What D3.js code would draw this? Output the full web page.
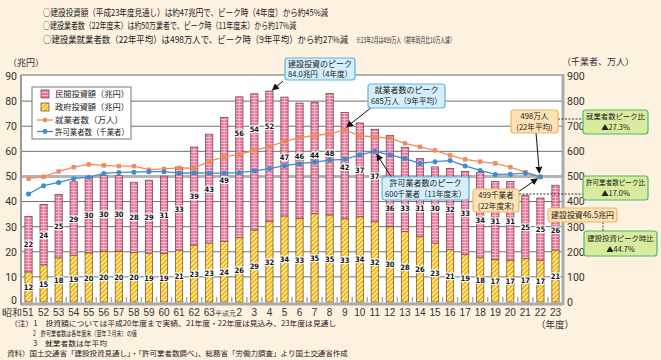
<!DOCTYPE html>
<html><head><meta charset="utf-8">
<script src="https://cdn.jsdelivr.net/npm/d3@7"></script>
<style>
body{margin:0;background:#fdf1e0;}
svg{display:block;font-family:"Noto Sans CJK JP","Noto Sans",sans-serif;}
</style>
</head><body><svg id="c" width="661" height="360"></svg>
<script>
const years = ["昭和51","52","53","54","55","56","57","58","59","60","61","62","63","平成元","2","3","4","5","6","7","8","9","10","11","12","13","14","15","16","17","18","19","20","21","22","23"];
const govInvest  = [11.9,14.7,17.5,18.6,19.5,20.1,20.1,19.7,19.4,19.3,20.6,22.6,23.4,24.1,25.6,28.6,32.1,34.2,33.2,35.1,34.6,33.1,33.9,31.9,29.9,28.1,25.9,23.4,20.8,18.8,17.6,16.8,16.6,17.2,16.6,20.6];
const privInvest = [22.2,24.1,25.3,29.3,30.2,30.2,30.2,28.0,29.1,30.8,33.1,39.1,43.4,49.4,56.1,54.3,51.9,47.4,46.0,44.4,48.4,42.4,37.4,36.8,36.4,33.4,31.2,30.4,32.4,33.2,34.0,31.2,31.4,25.3,24.8,25.9];
const workers = [491,499,520,537,548,544,541,541,527,530,534,533,560,578,588,604,619,640,655,663,670,685,662,657,653,632,618,604,584,568,559,552,537,517,498];
const firms   = [430,463,476,491,497,512,516,517,519,519,513,514,513,513,515,522,531,543,551,557,565,568,586,600,586,571,552,559,563,542,524,508,509,513,499];
const leftTicks  = [0,10,20,30,40,50,60,70,80,90];
const rightTicks = [0,100,200,300,400,500,600,700,800,900];
const titleLines = [
  "○建設投資額（平成23年度見通し）は約47兆円で、ピーク時（4年度）から約45%減",
  "○建設業者数（22年度末）は約50万業者で、ピーク時（11年度末）から約17%減",
  "○建設業就業者数（22年平均）は498万人で、ピーク時（9年平均）から約27%減"
];
const titleNote = "※23年2月は499万人（前年同月比10万人減）";
const legendLabels = ["民間投資額（兆円）","政府投資額（兆円）","就業者数（万人）","許可業者数（千業者）"];
const notes = [
  "（注）1　投資額については平成20年度まで実績、21年度・22年度は見込み、23年度は見通し",
  "2　許可業者数は各年度末（翌年３月末）の値",
  "3　就業者数は年平均",
  "資料）国土交通省「建設投資見通し」・「許可業者数調べ」、総務省「労働力調査」より国土交通省作成"
];

const svg = d3.select("#c");
const defs = svg.append("defs");
const pp = defs.append("pattern").attr("id","pinkP").attr("width",4).attr("height",3).attr("patternUnits","userSpaceOnUse");
pp.append("rect").attr("width",4).attr("height",3).attr("fill","#ef7399");
pp.append("rect").attr("y",2).attr("width",4).attr("height",1).attr("fill","#f8bfd2");
const yp = defs.append("pattern").attr("id","yelP").attr("width",3.2).attr("height",3.2).attr("patternUnits","userSpaceOnUse").attr("patternTransform","rotate(45)");
yp.append("rect").attr("width",3.2).attr("height",3.2).attr("fill","#fff0a8");
yp.append("rect").attr("width",1.7).attr("height",3.2).attr("fill","#f5b10c");
defs.append("marker").attr("id","arr").attr("viewBox","0 0 10 10").attr("refX",9).attr("refY",5)
  .attr("markerWidth",7).attr("markerHeight",7).attr("orient","auto-start-reverse")
  .append("path").attr("d","M0,0L10,5L0,10z").attr("fill","#111");

const L = 21, R = 563, T = 76, B = 302;
const x = d3.scaleBand().domain(years).range([L,R]).paddingInner(0.52).paddingOuter(0.26);
const yL = d3.scaleLinear().domain([0,90]).range([B,T]);
const yR = d3.scaleLinear().domain([0,900]).range([B,T]);
const bw = x.bandwidth();
const cx = d => x(d) + bw/2;

function ctext(parent, x0, y0, t, fs, maxW, anchor, exact){
  const gg = parent.append("g").attr("transform",`translate(${x0},${y0})`);
  const tx = gg.append("text").attr("font-size",fs).attr("text-anchor",anchor||"start").attr("fill","#222").text(t);
  const w = tx.node().getComputedTextLength();
  if(w > maxW || exact) gg.attr("transform",`translate(${x0},${y0}) scale(${(maxW/w).toFixed(4)},1)`);
  return tx;
}

// titles
titleLines.forEach((t,i)=> ctext(svg, 43, 15.5+i*13.7, t, 9.4, [285,253,305][i], "start", true));
ctext(svg, 356, 43, titleNote, 7.5, 99, "start", true);

// plot background
svg.append("rect").attr("x",L).attr("y",T-1).attr("width",R-L).attr("height",B-T+1).attr("fill","#fff");
svg.append("line").attr("x1",L).attr("x2",R).attr("y1",T-1).attr("y2",T-1).attr("stroke","#b8b0a8").attr("stroke-width",2);

svg.append("g").selectAll("line").data(leftTicks.filter(t=>t>0 && t<90)).join("line")
  .attr("x1",L).attr("x2",R).attr("y1",d=>yL(d)).attr("y2",d=>yL(d))
  .attr("stroke",d=>d===50?"#b4b4b4":"#707070").attr("stroke-width",d=>d===50?3:1);

const axL = svg.append("g").attr("transform",`translate(${L},0)`)
  .call(d3.axisLeft(yL).tickValues(leftTicks).tickSize(0).tickPadding(4));
axL.select(".domain").remove();
axL.selectAll("text").attr("font-size",10.5).attr("fill","#333").attr("font-family","Roboto,'Noto Sans',sans-serif")
  .attr("dy",d=>d===0?"0.1em":"0.32em");
const axR = svg.append("g").attr("transform",`translate(${R},0)`)
  .call(d3.axisRight(yR).tickValues(rightTicks).tickSize(0).tickPadding(4));
axR.select(".domain").remove();
axR.selectAll("text").attr("font-size",10.5).attr("fill","#333").attr("font-family","Roboto,'Noto Sans',sans-serif");

svg.append("text").attr("x",8).attr("y",66).attr("font-size",9).attr("fill","#333").text("（兆円）");
svg.append("text").attr("x",562).attr("y",65).attr("font-size",9).attr("fill","#333").text("（千業者、万人）");

// bars
const g = svg.append("g");
years.forEach((yr,i)=>{
  const gv = govInvest[i], pv = privInvest[i];
  g.append("rect").attr("x",x(yr)).attr("y",yL(gv+pv)).attr("width",bw).attr("height",yL(gv)-yL(gv+pv))
    .attr("fill","url(#pinkP)").attr("stroke","#6a5058").attr("stroke-width",0.8);
  g.append("line").attr("x1",cx(yr)).attr("x2",cx(yr)).attr("y1",yL(gv+pv)+0.5).attr("y2",yL(gv)-0.5)
    .attr("stroke","#f9c6d6").attr("stroke-width",0.8);
  g.append("rect").attr("x",x(yr)).attr("y",yL(gv)).attr("width",bw).attr("height",yL(0)-yL(gv))
    .attr("fill","url(#yelP)").attr("stroke","#7a5a30").attr("stroke-width",0.8);
});

const boxes = {
  peakInv:  [285,58,70,22], peakWork:[368,84,77,24], peakFirm:[382,177,87,23],
  w22:[511,110,47,23], f22:[473,189,46,23], inv23:[548,208,69,14],
  gW:[583,110,65,24], gF:[583,176,65,24], gI:[584,231,73,25]
};

const lab = svg.append("g").attr("font-size",7.5).attr("font-weight","bold").attr("text-anchor","middle")
  .attr("font-family","'Liberation Sans Narrow','DejaVu Sans Condensed',sans-serif");
const underBox = (px,y) => Object.values(boxes).some(([bx,by,bwid,bh])=>px+5>bx&&px-5<bx+bwid&&y<by+bh+7);
years.forEach((yr,i)=>{
  const gv = govInvest[i], pv = privInvest[i];
  const px = cx(yr);
  lab.append("text").attr("x",px).attr("y",yL(gv/2)+3).text(Math.round(gv))
    .attr("fill","#111").attr("stroke","#fff").attr("stroke-width",2.2).attr("paint-order","stroke");
  const top = yL(gv+pv)+6, bot = yL(gv)-6;
  let mid = yL(gv+pv/2);
  Object.values(boxes).forEach(([bx,by,bwid,bh])=>{
    if(px+5>bx && px-5<bx+bwid && mid < by+bh+7) mid = Math.max(mid, by+bh+8);
  });
  let best = mid;
  if(i<workers.length){
    const up = yR(workers[i]), lo = yR(firms[i]);
    if(lo-up < 23 && mid>up && mid<lo && up-21>top){ best = up-21; }
    else{
      const ok = y => y>=top && y<=bot && Math.abs(up-y)>=7 && Math.abs(lo-y)>=7;
      for(let d=0; d<60; d+=0.5){
        if(ok(mid+d)){best=mid+d;break;}
        if(ok(mid-d) && !underBox(px,mid-d)){best=mid-d;break;}
      }
    }
  }
  lab.append("text").attr("x",px).attr("y",best+3).text(Math.round(pv))
    .attr("fill","#111").attr("stroke","#fff").attr("stroke-width",2.2).attr("paint-order","stroke");
});

// x axis
svg.append("line").attr("x1",L).attr("x2",R).attr("y1",B+2).attr("y2",B+2).attr("stroke","#aaa").attr("stroke-width",3);
svg.append("g").selectAll("line").data(years.slice(1)).join("line")
  .attr("x1",d=>x(d)-x.step()*x.paddingInner()/2).attr("x2",d=>x(d)-x.step()*x.paddingInner()/2)
  .attr("y1",B).attr("y2",B-5).attr("stroke","#aaa").attr("stroke-width",1.5);
const axB = svg.append("g").attr("transform",`translate(0,${B})`)
  .call(d3.axisBottom(x).tickSize(0).tickPadding(7));
axB.select(".domain").remove();
axB.selectAll("text").attr("font-size",d=>d==="平成元"?7:10).attr("fill","#333")
  .attr("text-anchor",d=>d==="昭和51"?"end":(d==="平成元"?"start":"middle"))
  .attr("dx",d=>d==="昭和51"?"5":(d==="平成元"?"-9":"0"))
  .attr("dy",d=>d==="平成元"?"0.95em":"0.71em");
svg.append("text").attr("x",536).attr("y",328).attr("font-size",9.5).attr("fill","#333").text("（年度）");

svg.append("line").attr("x1",L).attr("x2",L).attr("y1",T-1).attr("y2",B+3).attr("stroke","#999").attr("stroke-width",2);
svg.append("line").attr("x1",R).attr("x2",R).attr("y1",T-2).attr("y2",B+3).attr("stroke","#aaa").attr("stroke-width",3);

// lines
const wYears = years.slice(0, workers.length);
const line = d3.line().x(d=>cx(d[0])).y(d=>yR(d[1]));
svg.append("path").attr("d",line(wYears.map((y,i)=>[y,workers[i]]))).attr("fill","none").attr("stroke","#f28a5e").attr("stroke-width",1.3);
svg.append("g").selectAll("rect").data(wYears).join("rect")
  .attr("x",(d)=>cx(d)-2.2).attr("y",(d,i)=>yR(workers[i])-2.2).attr("width",4.4).attr("height",4.4).attr("fill","#f28a5e");
svg.append("path").attr("d",line(wYears.map((y,i)=>[y,firms[i]]))).attr("fill","none").attr("stroke","#3d8bd0").attr("stroke-width",1.3);
svg.append("g").selectAll("circle").data(wYears).join("circle")
  .attr("cx",d=>cx(d)).attr("cy",(d,i)=>yR(firms[i])).attr("r",2.5).attr("fill","#3d8bd0");

// legend
const lg = svg.append("g");
lg.append("rect").attr("x",32).attr("y",87).attr("width",99).attr("height",52).attr("fill","#fff").attr("stroke","#777").attr("stroke-width",1);
lg.append("rect").attr("x",41).attr("y",90).attr("width",8).attr("height",8).attr("fill","url(#pinkP)").attr("stroke","#6a5058").attr("stroke-width",0.8);
lg.append("rect").attr("x",41).attr("y",103).attr("width",8).attr("height",8).attr("fill","url(#yelP)").attr("stroke","#7a5a30").attr("stroke-width",0.8);
lg.append("line").attr("x1",37).attr("x2",53).attr("y1",120).attr("y2",120).attr("stroke","#f28a5e").attr("stroke-width",1.3);
lg.append("rect").attr("x",43).attr("y",118).attr("width",4).attr("height",4).attr("fill","#f28a5e");
lg.append("line").attr("x1",37).attr("x2",53).attr("y1",131.5).attr("y2",131.5).attr("stroke","#3d8bd0").attr("stroke-width",1.3);
lg.append("circle").attr("cx",45).attr("cy",131.5).attr("r",2.4).attr("fill","#3d8bd0");
legendLabels.forEach((t,i)=> ctext(lg, 55, [97,110,123,135][i], t, 8.5, 74, "start", false));

// annotations
function box(key,lines,fill,stroke,fs,gap){
  const [x0,y0,w,h] = boxes[key];
  fs = fs || 8.5; gap = gap || 10.5;
  const gg = svg.append("g");
  gg.append("rect").attr("x",x0).attr("y",y0).attr("width",w).attr("height",h).attr("rx",3)
    .attr("fill",fill).attr("stroke",stroke).attr("stroke-width",1.2);
  const n = lines.length;
  lines.forEach((t,i)=> ctext(gg, x0+w/2, y0+h/2+(i-(n-1)/2)*gap+fs*0.37, t, fs, w-6, "middle", false));
}
function arrow(x1,y1,x2,y2){
  svg.append("line").attr("x1",x1).attr("y1",y1).attr("x2",x2).attr("y2",y2)
    .attr("stroke","#111").attr("stroke-width",1).attr("marker-end","url(#arr)");
}
function dotted(x1,y1,x2,y2){
  svg.append("line").attr("x1",x1).attr("y1",y1).attr("x2",x2).attr("y2",y2)
    .attr("stroke","#333").attr("stroke-width",1).attr("stroke-dasharray","2,1.5");
}
const blueF="#d4eefb", blueS="#5bb5e6", orF="#fde2b4", orS="#f2b466", grF="#d8eb9e", grS="#4fb86a";
arrow(283,81, cx("4")+3, yL(govInvest[16]+privInvest[16])-1);
box("peakInv",["建設投資のピーク","84.0兆円（4年度）"],blueF,blueS,8,10.8);
arrow(372,107, cx("9")+2, yR(workers[21])-3);
box("peakWork",["就業者数のピーク","685万人（9年平均）"],blueF,blueS,8,11);
arrow(392,178, cx("11")+2, yR(firms[23])+3);
box("peakFirm",["許可業者数のピーク","600千業者（11年度末）"],blueF,blueS,8,11);
dotted(558,119,583,119);
dotted(519,194,583,194);
dotted(603,222,603,231);
arrow(536,133, cx("22")-1, yR(workers[34])-4);
box("w22",["498万人","(22年平均)"],orF,orS,7.6,11);
arrow(518,192, cx("22")-3, yR(firms[34])+2);
box("f22",["499千業者","(22年度末)"],orF,orS,7.6,11);
box("inv23",["建設投資46.5兆円"],orF,orS);
box("gW",["就業者数ピーク比","▲27.3%"],grF,grS,7.4,11);
box("gF",["許可業者数ピーク比","▲17.0%"],grF,grS,7.4,11);
box("gI",["建設投資ピーク時比","▲44.7%"],grF,grS,7.4,11);

// notes
const nt = svg.append("g").attr("fill","#333");
ctext(nt, 10, 326, notes[0], 7, 327, "start", true);
ctext(nt, 33, 336, notes[1], 7, 104, "start", true);
ctext(nt, 33, 346, notes[2], 7, 74, "start", true);
ctext(nt, 7, 356, notes[3], 7, 341, "start", true);
</script>
</body></html>
